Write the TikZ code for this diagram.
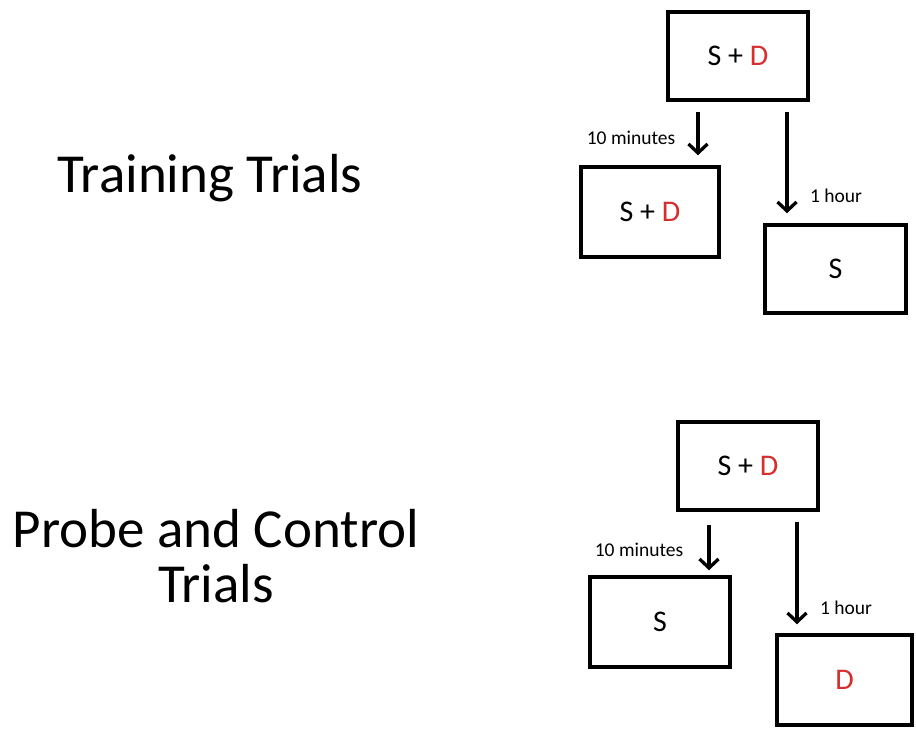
\documentclass[tikz,border=0pt]{standalone}
\usepackage{fontspec}
\setmainfont{Carlito}
\usetikzlibrary{arrows.meta}
\definecolor{dred}{RGB}{215,45,45}
\begin{document}
\begin{tikzpicture}[x=1pt,y=-1pt,
  box/.style={draw=black,line width=3.5pt,inner sep=0pt,minimum width=#1},
  box/.default=140pt,
  lbl/.style={font=\fontsize{19.5}{22}\selectfont,inner sep=0pt,anchor=base},
  big/.style={font=\fontsize{55}{55}\selectfont,inner sep=0pt},
  arr/.style={line width=3.3pt,-{Straight Barb[length=9pt,width=19pt,line width=3.3pt]}},
  boxtext/.style={font=\fontsize{30}{32}\selectfont}]
\useasboundingbox[fill=white] (0,0) rectangle (916,730);

% Left titles
\node[big,anchor=base] (tt) at (210,193) {Training Trials};
\node[big,align=center,anchor=center] (pc) at (216,556) {Probe and Control\\Trials};

% Training trials
\node[box=140pt,minimum height=88pt,boxtext] (t1) at (738,56) {S + \textcolor{dred}{D}};
\node[box=138pt,minimum height=90pt,boxtext] (t2) at (650,212) {S + \textcolor{dred}{D}};
\node[box=141pt,minimum height=88pt,boxtext] (t3) at (835.5,269) {S};
\coordinate (xa) at (698,0);
\coordinate (xb) at (787,0);
\draw[arr,shorten <=10pt,shorten >=10pt] (t1.south -| xa) -- (t2.north -| xa);
\draw[arr,shorten <=10pt,shorten >=10pt] (t1.south -| xb) -- (t3.north -| xb);
\node[lbl] (m1) at (631,145) {10 minutes};
\node[lbl] (h1) at (836,203) {1 hour};

% Probe and control trials
\node[box=140pt,minimum height=88pt,boxtext] (p1) at (748,466) {S + \textcolor{dred}{D}};
\node[box=140pt,minimum height=90pt,boxtext] (p2) at (660,622) {S};
\node[box=135pt,minimum height=90pt,boxtext] (p3) at (844.5,680) {\textcolor{dred}{D}};
\coordinate (xc) at (709,0);
\coordinate (xd) at (797,0);
\draw[arr,shorten <=13pt,shorten >=5pt] (p1.south -| xc) -- (p2.north -| xc);
\draw[arr,shorten <=10pt,shorten >=9pt] (p1.south -| xd) -- (p3.north -| xd);
\node[lbl] (m2) at (639,556) {10 minutes};
\node[lbl] (h2) at (846,614) {1 hour};
\end{tikzpicture}
\end{document}
